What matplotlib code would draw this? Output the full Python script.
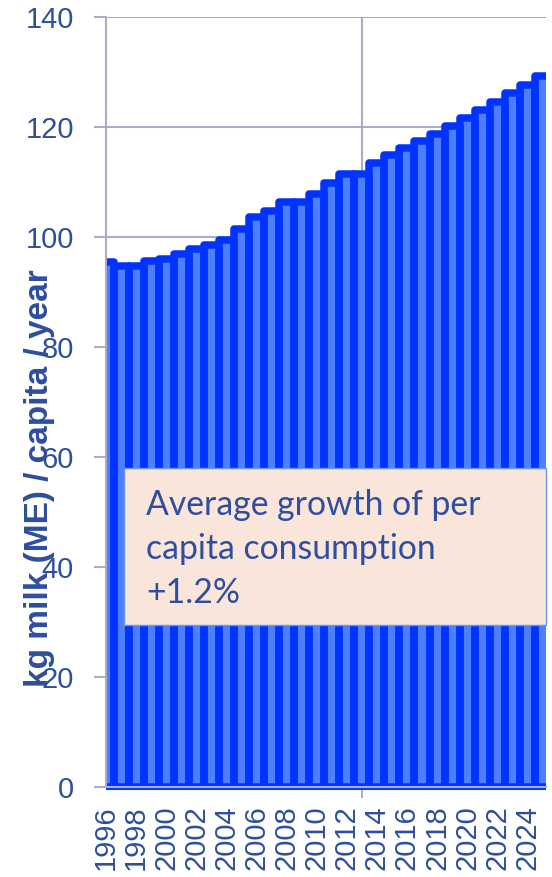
import matplotlib
matplotlib.use('Agg')
import matplotlib.pyplot as plt
from matplotlib.patches import Rectangle
import numpy as np

# ---- data ----
years = list(range(1996, 2026))
consumption = [95.4, 94.8, 94.8, 95.6, 96.0, 96.9, 97.8, 98.5, 99.4, 101.4,
               103.6, 104.8, 106.3, 106.3, 107.9, 109.9, 111.4, 111.4, 113.4, 114.9,
               116.1, 117.5, 118.8, 120.2, 121.7, 123.1, 124.5, 126.1, 127.6, 129.2]
tick_labels = [str(y) for y in range(1996, 2025, 2)]
yticks = [0, 20, 40, 60, 80, 100, 120, 140]
ylabel = "kg milk (ME) / capita / year"
box_lines = ["Average growth of per", "capita consumption", "+1.2%"]

# ---- styling ----
W, H = 552, 877
DARK = '#0033FF'
LIGHT = '#4D80FF'
GRID = '#A9ADCB'
TXT = '#2E4E9E'

fig = plt.figure(figsize=(W / 100, H / 100), dpi=100)
ax = fig.add_axes([106 / W, 90 / H, 440 / W, 770 / H])

x = np.arange(len(years))
clip_rect = Rectangle((0, -0.004), 1, 1.01, transform=ax.transAxes)

fills = ax.bar(x, consumption, width=1.0, color=LIGHT, linewidth=0, zorder=2)
edges = ax.bar(x, consumption, width=1.0, facecolor='none', edgecolor=DARK,
               linewidth=5.4, joinstyle='round', zorder=3)
for p in list(fills) + list(edges):
    p.set_clip_path(clip_rect)

ax.set_xlim(0, 29.24)
ax.set_ylim(0, 140)

# grid
ax.set_yticks(yticks)
ax.yaxis.grid(True, color=GRID, linewidth=1.5, zorder=0)
ax.axvline(17, color=GRID, linewidth=1.5, zorder=0)
ax.set_axisbelow(True)

for s in ['top', 'right']:
    ax.spines[s].set_visible(False)
for s in ['left', 'bottom']:
    ax.spines[s].set_color(GRID)
    ax.spines[s].set_linewidth(1.5)
    ax.spines[s].set_zorder(4)

ax.tick_params(axis='y', length=9, width=1.5, color=GRID, pad=14,
               labelsize=21, labelcolor=TXT)
for t in ax.get_yticklabels():
    t.set_fontfamily('Liberation Sans')

ax.set_xticks(x[::2][:len(tick_labels)])
ax.set_xticklabels(tick_labels, rotation=90, fontsize=21, color=TXT,
                   family='Liberation Sans')
ax.tick_params(axis='x', which='major', length=0, pad=13)
ax.set_xticks([0, 17], minor=True)
ax.tick_params(axis='x', which='minor', length=8, width=1.5, color=GRID)

fig.text(40 / W, 1 - 478 / H, ylabel, rotation=90, fontsize=24, weight='bold',
         color=TXT, ha='center', va='center', family='Liberation Sans')

# annotation box
ax.add_patch(Rectangle((18 / 440, (787 - 625) / 770), 422 / 440, 157 / 770,
                       transform=ax.transAxes, facecolor='#FAE5DB',
                       edgecolor='#6B92F5', linewidth=1, zorder=6, clip_on=False))
for i, line in enumerate(box_lines):
    ax.text(40 / 440, (787 - (515 + 44 * i)) / 770, line, transform=ax.transAxes,
            fontsize=24.3, family='Lato', color=TXT, va='baseline', ha='left', zorder=7)

fig.savefig('out.png', dpi=100)
